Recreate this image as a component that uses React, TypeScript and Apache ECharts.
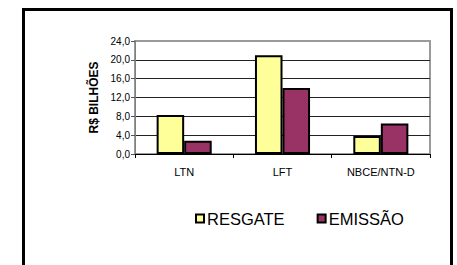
import React, { useEffect, useRef } from "react";
import * as echarts from "echarts";

const categories = ["LTN", "LFT", "NBCE/NTN-D"];
const resgate = [8.3, 21.0, 3.8];
const emissao = [2.8, 14.0, 6.5];
const seriesNames = ["RESGATE", "EMISSÃO"];
const yAxisTitle = "R$ BILHÕES";

const FONT = 'Arial, "Liberation Sans", sans-serif';

export default function App() {
  const ref = useRef<HTMLDivElement>(null);
  useEffect(() => {
    if (!ref.current) return;
    const chart = echarts.init(ref.current, undefined, { renderer: "svg" });
    chart.setOption({
      animation: false,
      backgroundColor: "#fff",
      textStyle: { fontFamily: FONT },
      grid: {
        left: 135,
        right: 27,
        top: 41,
        bottom: 111,
        show: true,
        borderColor: "#9a9a9a",
        borderWidth: 2,
        backgroundColor: "transparent",
      },
      legend: {
        data: seriesNames,
        left: 190,
        top: 205,
        icon: "rect",
        itemWidth: 8,
        itemHeight: 8,
        itemGap: 32,
        textStyle: { fontFamily: FONT, fontSize: 16.5, color: "#000", padding: [0, 0, 0, -2] },
        itemStyle: { borderColor: "#000", borderWidth: 2 },
      },
      xAxis: {
        type: "category",
        data: categories,
        axisLine: { lineStyle: { color: "#000", width: 1 } },
        axisTick: { show: true, length: 4, lineStyle: { color: "#000" } },
        axisLabel: { fontFamily: FONT, fontSize: 11, color: "#000", margin: 12 },
      },
      yAxis: {
        type: "value",
        min: 0,
        max: 24,
        interval: 4,
        name: yAxisTitle,
        nameLocation: "middle",
        nameRotate: 90,
        nameGap: 33,
        nameTextStyle: { fontFamily: FONT, fontSize: 12, fontWeight: "bold", color: "#000" },
        axisLine: { show: true, lineStyle: { color: "#808080", width: 1 } },
        axisTick: { show: true, length: 4, lineStyle: { color: "#555" } },
        axisLabel: {
          fontFamily: FONT,
          fontSize: 10,
          color: "#000",
          margin: 5,
          formatter: (v: number) => v.toFixed(1).replace(".", ","),
        },
        splitLine: {
          show: true,
          showMinLine: false,
          showMaxLine: false,
          lineStyle: { color: "#222", width: 1 },
        },
      },
      series: [
        {
          name: seriesNames[0],
          type: "bar",
          data: resgate,
          barGap: "0%",
          barCategoryGap: "44%",
          itemStyle: { color: "#FFFF99", borderColor: "#000", borderWidth: 2 },
        },
        {
          name: seriesNames[1],
          type: "bar",
          data: emissao,
          barGap: "0%",
          barCategoryGap: "44%",
          itemStyle: { color: "#993366", borderColor: "#000", borderWidth: 2 },
        },
      ],
      graphic: [
        {
          type: "rect",
          shape: { x: 23.5, y: 9.5, width: 428, height: 300 },
          style: { fill: "none", stroke: "#000", lineWidth: 3 },
          z: 100,
        },
      ],
    });
    return () => chart.dispose();
  }, []);
  return (
    <div
      ref={ref}
      style={{ position: "fixed", left: 0, top: 0, width: 457, height: 265 }}
    />
  );
}
